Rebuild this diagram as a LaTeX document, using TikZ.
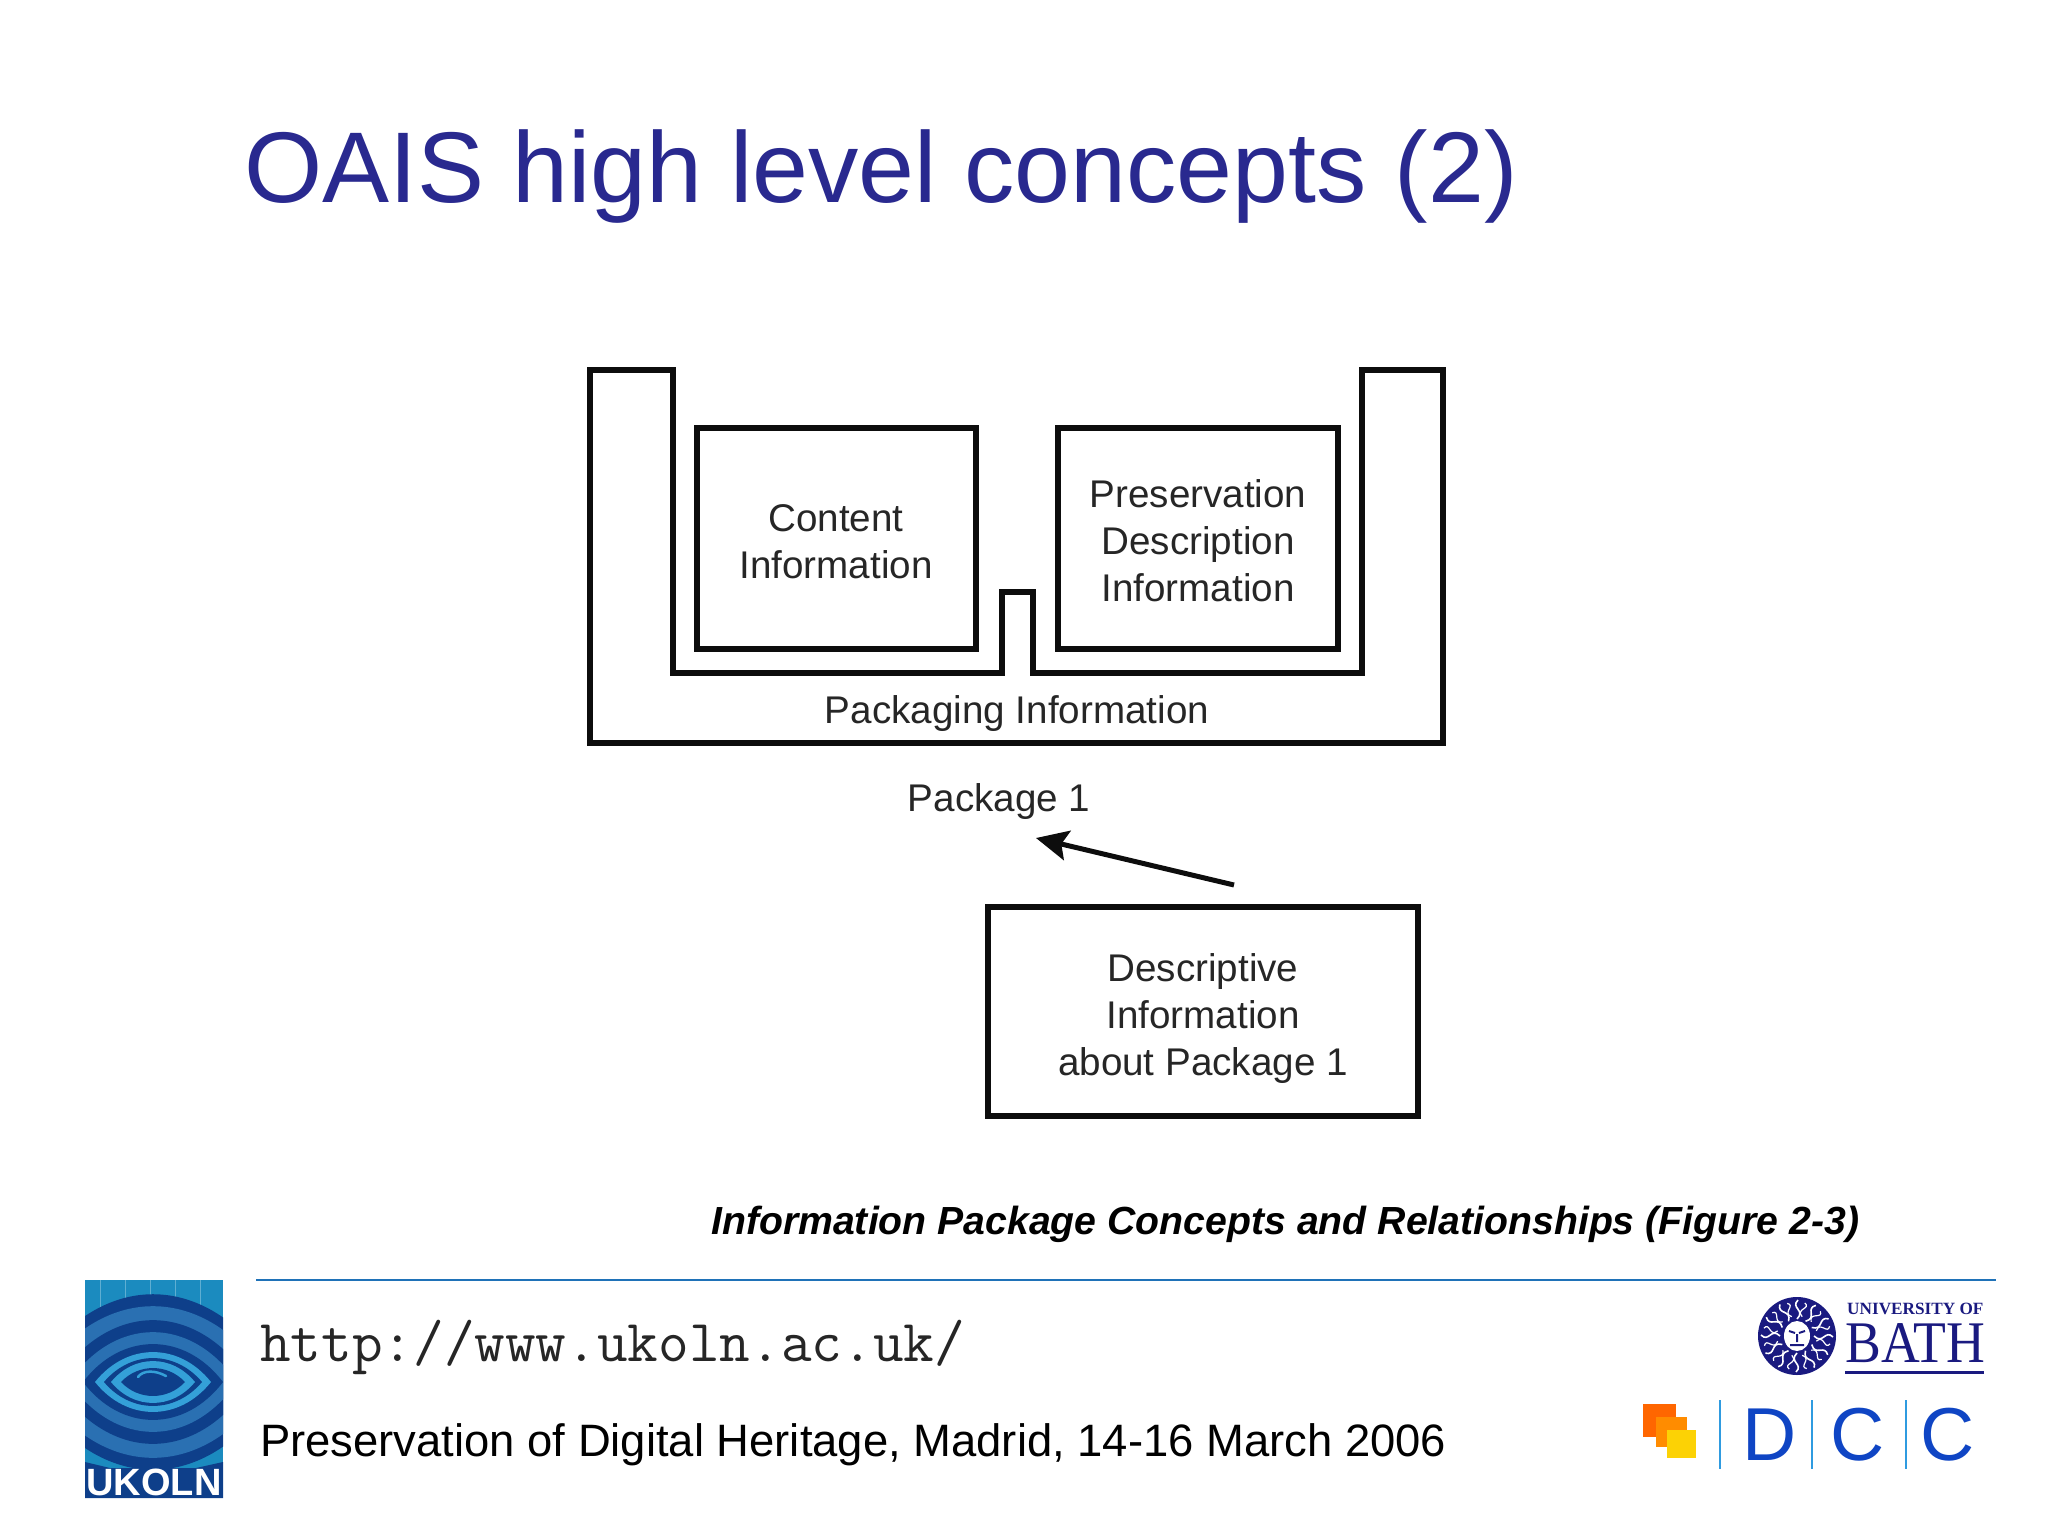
\documentclass[tikz,border=0pt]{standalone}
\usepackage{fontspec}
\setmainfont{Liberation Sans}
\newfontfamily\seriffont{Liberation Serif}
\newfontfamily\bathfont[FakeStretch=0.91]{Liberation Serif}
\usetikzlibrary{arrows.meta}
\definecolor{titleblue}{HTML}{29298F}
\definecolor{ruleblue}{HTML}{1F72B8}
\definecolor{logotop}{HTML}{1B8BBF}
\definecolor{logodark}{HTML}{0E3F8A}
\definecolor{logomid}{HTML}{2A70B2}
\definecolor{logolight}{HTML}{34A0D8}
\definecolor{bathblue}{HTML}{1A1A80}
\definecolor{dccblue}{HTML}{0F45C4}
\definecolor{dccline}{HTML}{2F9BE0}
\newcommand{\pxfont}[2]{\fontsize{#1}{#2}\selectfont}
\newcommand{\drop}[1]{\rule{0pt}{#1pt}}
\newcommand{\lens}[3]{
	\fill [#3](153-#1,1382) .. controls (153-#1*0.45,1382-#2*1.33) and (153+#1*0.45,1382-#2*1.33) .. (153+#1,1382)
		.. controls (153+#1*0.45,1382+#2*1.33) and (153-#1*0.45,1382+#2*1.33) .. (153-#1,1382) -- cycle;
	}
\newcommand{\square}[5]{
	\fill [#5](#1,#2) rectangle (#3,#4);
	}
\newcommand{\sepline}[1]{
	\draw [dccline, line width=2.5](#1,1400) -- (#1,1469);
	}
\begin{document}
\begin{tikzpicture}[
      x=1pt, y=-1pt,
      inner sep=0pt, %sizes below are image pixels
      outline/.style={line width=6, draw=black!95},
      infobox/.style={outline, align=center, font=\pxfont{38.6}{47}, text=black!85},
      info/.style={font=\pxfont{38.6}{47}, text=black!85},
      relation/.style={line width=5, black!95, -{Stealth[length=32pt,width=30pt,inset=6pt]}},
      footer/.style={anchor=base west, text=black}
    ]
    \useasboundingbox (0,0) rectangle (2048,1536);
    %Name the slide
    \node[anchor=base west, text=titleblue, font=\pxfont{100.5}{120}] (title) at (244,202) {OAIS high level concepts (2)};
    % Draw the package outline
    \draw [outline, line join=miter](590,370) -- (673,370) -- (673,673) -- (1002,673) -- (1002,592) -- (1033,592)
        -- (1033,673) -- (1362,673) -- (1362,370) -- (1443,370) -- (1443,743) -- (590,743) -- cycle;
    % Draw the information boxes
    \node[infobox, minimum width=279, minimum height=221] (content) at (836,538) {\drop{34}Content\\Information};
    \node[infobox, minimum width=280, minimum height=221] (preservation) at (1198,538) {\drop{34}Preservation\\Description\\Information};
    \node[infobox, minimum width=430, minimum height=209] (descriptive) at (1203,1011) {\drop{42}Descriptive\\Information\\about Package 1};
    \node[info] (packaging) at (1017,714) {Packaging Information};
    \node[info] (package) at (999,802) {Package 1};
    % Draw the relation between them
    \coordinate (relstart) at (1234,885);
    \coordinate (relend) at (1036,838);
    \draw [relation](relstart) -- (relend);
    %caption
    \node[footer, font=\pxfont{39.2}{48}\bfseries\itshape] (caption) at (711,1234) {Information Package Concepts and Relationships (Figure 2-3)};
    % Draw the footer
    \coordinate (rulestart) at (256,1280);
    \coordinate (ruleend) at (1996,1280);
    \draw [ruleblue, line width=2.5](rulestart) -- (ruleend);
    \node[footer, font=\pxfont{59.5}{60}\ttfamily, text=black!85] (url) at (260,1361) {http://www.ukoln.ac.uk/};
    \node[footer, font=\pxfont{45.4}{54}] (event) at (260,1456) {Preservation of Digital Heritage, Madrid, 14-16 March 2006};
    % Draw the UKOLN logo
    \begin{scope}
      \clip (85,1280) rectangle (223,1498);
      \fill [logotop](85,1280) rectangle (223,1498);
      \foreach \gx in {100,125,150,175,200}{
        \draw [white!30!logotop, line width=1](\gx,1280) -- (\gx,1330);
      }
      \lens{128}{88}{logodark}
      \lens{118}{76}{logomid}
      \lens{98}{62}{logodark}
      \lens{84}{50}{logomid}
      \lens{70}{38}{logodark}
      \lens{58}{30}{logolight}
      \lens{49}{24}{logodark}
      \lens{42}{21}{logolight}
      \lens{32}{14}{logodark}
      \draw [logolight, line width=2.5, line cap=round](138,1377) .. controls (143,1370) and (155,1370) .. (166,1376);
      \fill [logodark](85,1462) -- (110,1468) -- (196,1468) -- (223,1462) -- (223,1498) -- (85,1498) -- cycle;
    \end{scope}
    \node[font=\pxfont{38}{44}\bfseries, text=white] (ukoln) at (154,1482) {UKOLN};
    % Draw the Bath logo
    \fill [bathblue](1797,1336) circle (39);
    \foreach \ang in {0,30,...,330}{
      \draw [white, line width=1.6, rotate around={\ang:(1797,1336)}]
        (1797,1319) .. controls (1806,1310) and (1790,1308) .. (1798,1300);
      \draw [white, line width=1.2, rotate around={\ang+15:(1797,1336)}]
        (1797,1316) .. controls (1788,1310) and (1804,1306) .. (1796,1302);
    }
    \fill [white](1797,1336) ellipse (13 and 15);
    \draw [bathblue, line width=2](1789,1331) -- (1795,1333) (1799,1333) -- (1805,1331) (1797,1334) -- (1797,1342) (1790,1345) -- (1804,1345);
    \node[anchor=base west, text=bathblue, font=\pxfont{17.2}{20}\seriffont\bfseries] (bathuni) at (1847,1314) {UNIVERSITY OF};
    \node[anchor=base west, text=bathblue, font=\pxfont{59}{64}\bathfont] (bath) at (1845,1362) {BATH};
    \coordinate (bathstart) at (1845,1372);
    \coordinate (bathend) at (1984,1372);
    \draw [bathblue, line width=3](bathstart) -- (bathend);
    % Draw the DCC logo
    \square{1643}{1404}{1676}{1437}{orange!80!red}
    \square{1656}{1417}{1687}{1447}{orange!90!yellow}
    \square{1667}{1430}{1696}{1458}{yellow!70!orange}
    \sepline{1720}
    \sepline{1812}
    \sepline{1906}
    \node[text=dccblue, font=\pxfont{75}{80}] (dccd) at (1770,1435) {D};
    \node[text=dccblue, font=\pxfont{75}{80}] (dccc) at (1858,1435) {C};
    \node[text=dccblue, font=\pxfont{75}{80}] (dcccc) at (1948,1435) {C};
\end{tikzpicture}
\end{document}
